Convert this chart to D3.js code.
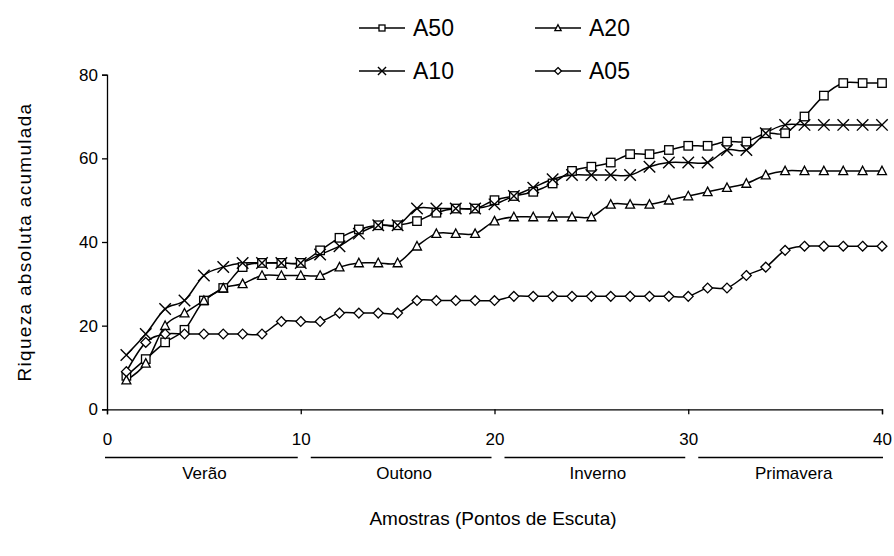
<!DOCTYPE html>
<html><head><meta charset="utf-8">
<script src="https://cdn.jsdelivr.net/npm/d3@7"></script>
<style>body{margin:0;background:#fff}svg{display:block;font-family:Arial,"Liberation Sans",sans-serif}</style>
</head><body><svg id="c" width="894" height="556"></svg>
<script>
const samples = d3.range(1, 41);
const A50 = [8,12,16,19,26,29,34,35,35,35,38,41,43,44,44,45,47,48,48,50,51,52,54,57,58,59,61,61,62,63,63,64,64,66,66,70,75,78,78,78];
const A20 = [7,11,20,23,26,29,30,32,32,32,32,34,35,35,35,39,42,42,42,45,46,46,46,46,46,49,49,49,50,51,52,53,54,56,57,57,57,57,57,57];
const A10 = [13,18,24,26,32,34,35,35,35,35,37,39,42,44,44,48,48,48,48,49,51,53,55,56,56,56,56,58,59,59,59,62,62,66,68,68,68,68,68,68];
const A05 = [9,16,18,18,18,18,18,18,21,21,21,23,23,23,23,26,26,26,26,26,27,27,27,27,27,27,27,27,27,27,29,29,32,34,38,39,39,39,39,39];
const yTicks = [0,20,40,60,80];
const xTicks = [0,10,20,30,40];
const seasons = ["Verão","Outono","Inverno","Primavera"];
const seasonRanges = [[0,10],[10,20],[20,30],[30,40]];
const seriesNames = ["A50","A20","A10","A05"];
const seriesData = [A50, A20, A10, A05];
const markers = ["square","triangle","cross","diamond"];

const svg = d3.select("#c");
const x = d3.scaleLinear().domain([0,40]).range([107,882]);
const y = d3.scaleLinear().domain([0,80]).range([409.3,74.7]);

// axes
const yAxis = svg.append("g").attr("transform","translate(107,0)")
  .call(d3.axisLeft(y).tickValues(yTicks).tickSize(5).tickPadding(4));
const xAxis = svg.append("g").attr("transform","translate(0,409.3)")
  .call(d3.axisBottom(x).tickValues(xTicks).tickSize(5).tickPadding(19));
[yAxis,xAxis].forEach(a=>{
  a.select(".domain").attr("stroke","#000").attr("stroke-width",1.3);
  a.selectAll(".tick line").attr("stroke","#000").attr("stroke-width",1.3);
  a.selectAll("text").attr("font-size",17).attr("fill","#000").attr("font-family","Arial, 'Liberation Sans', sans-serif");
});

// season lines and labels
const sg = svg.append("g");
seasonRanges.forEach((r,i)=>{
  const x0 = x(r[0]) + (i===0 ? -2 : 10);
  const x1 = x(r[1]) + (i===3 ? 1 : -3);
  sg.append("line").attr("x1",x0).attr("x2",x1).attr("y1",457.5).attr("y2",457.5)
    .attr("stroke","#000").attr("stroke-width",1.4);
  sg.append("text").attr("x",(x0+x1)/2+3).attr("y",479).attr("text-anchor","middle")
    .attr("font-size",17).text(seasons[i]);
});

// titles
svg.append("text").attr("transform","translate(31,242) rotate(-90)").attr("text-anchor","middle")
  .attr("font-size",19).attr("letter-spacing",1.3).text("Riqueza absoluta acumulada");
svg.append("text").attr("x",493).attr("y",525).attr("text-anchor","middle")
  .attr("font-size",19).text("Amostras (Pontos de Escuta)");

function drawMarker(g, type, cx, cy, s) {
  const h = s/2;
  if (type==="square") {
    g.append("rect").attr("x",cx-h).attr("y",cy-h).attr("width",s).attr("height",s)
      .attr("fill","#fff").attr("stroke","#000").attr("stroke-width",1.3);
  } else if (type==="triangle") {
    g.append("path").attr("d",`M${cx},${cy-h*1.1}L${cx+h*1.05},${cy+h*0.9}L${cx-h*1.05},${cy+h*0.9}Z`)
      .attr("fill","#fff").attr("stroke","#000").attr("stroke-width",1.3);
  } else if (type==="diamond") {
    g.append("path").attr("d",`M${cx},${cy-h*1.15}L${cx+h*1.15},${cy}L${cx},${cy+h*1.15}L${cx-h*1.15},${cy}Z`)
      .attr("fill","#fff").attr("stroke","#000").attr("stroke-width",1.3);
  } else if (type==="cross") {
    const k = h*1.35;
    g.append("path").attr("d",`M${cx-k},${cy-k}L${cx+k},${cy+k}M${cx-k},${cy+k}L${cx+k},${cy-k}`)
      .attr("fill","none").attr("stroke","#000").attr("stroke-width",1.4);
  }
}

const line = d3.line().x((d,i)=>x(samples[i])).y(d=>y(d)).curve(d3.curveCatmullRom.alpha(0));
const pg = svg.append("g");
seriesData.forEach((data,si)=>{
  pg.append("path").attr("d",line(data)).attr("fill","none").attr("stroke","#000").attr("stroke-width",1.5);
});
seriesData.forEach((data,si)=>{
  const g = pg.append("g");
  data.forEach((v,i)=>drawMarker(g, markers[si], x(samples[i]), y(v), 8.5));
});

// legend
const legendPos = [[359,28],[535,28],[359,71],[535,71]];
const lg = svg.append("g");
seriesNames.forEach((n,i)=>{
  const [lx,ly] = legendPos[i];
  lg.append("line").attr("x1",lx).attr("x2",lx+46).attr("y1",ly).attr("y2",ly).attr("stroke","#000").attr("stroke-width",1.3);
  drawMarker(lg, markers[i], lx+23, ly, 6);
  lg.append("text").attr("x",lx+54).attr("y",ly).attr("dy","0.36em").attr("font-size",23).text(n);
});
</script></body></html>
